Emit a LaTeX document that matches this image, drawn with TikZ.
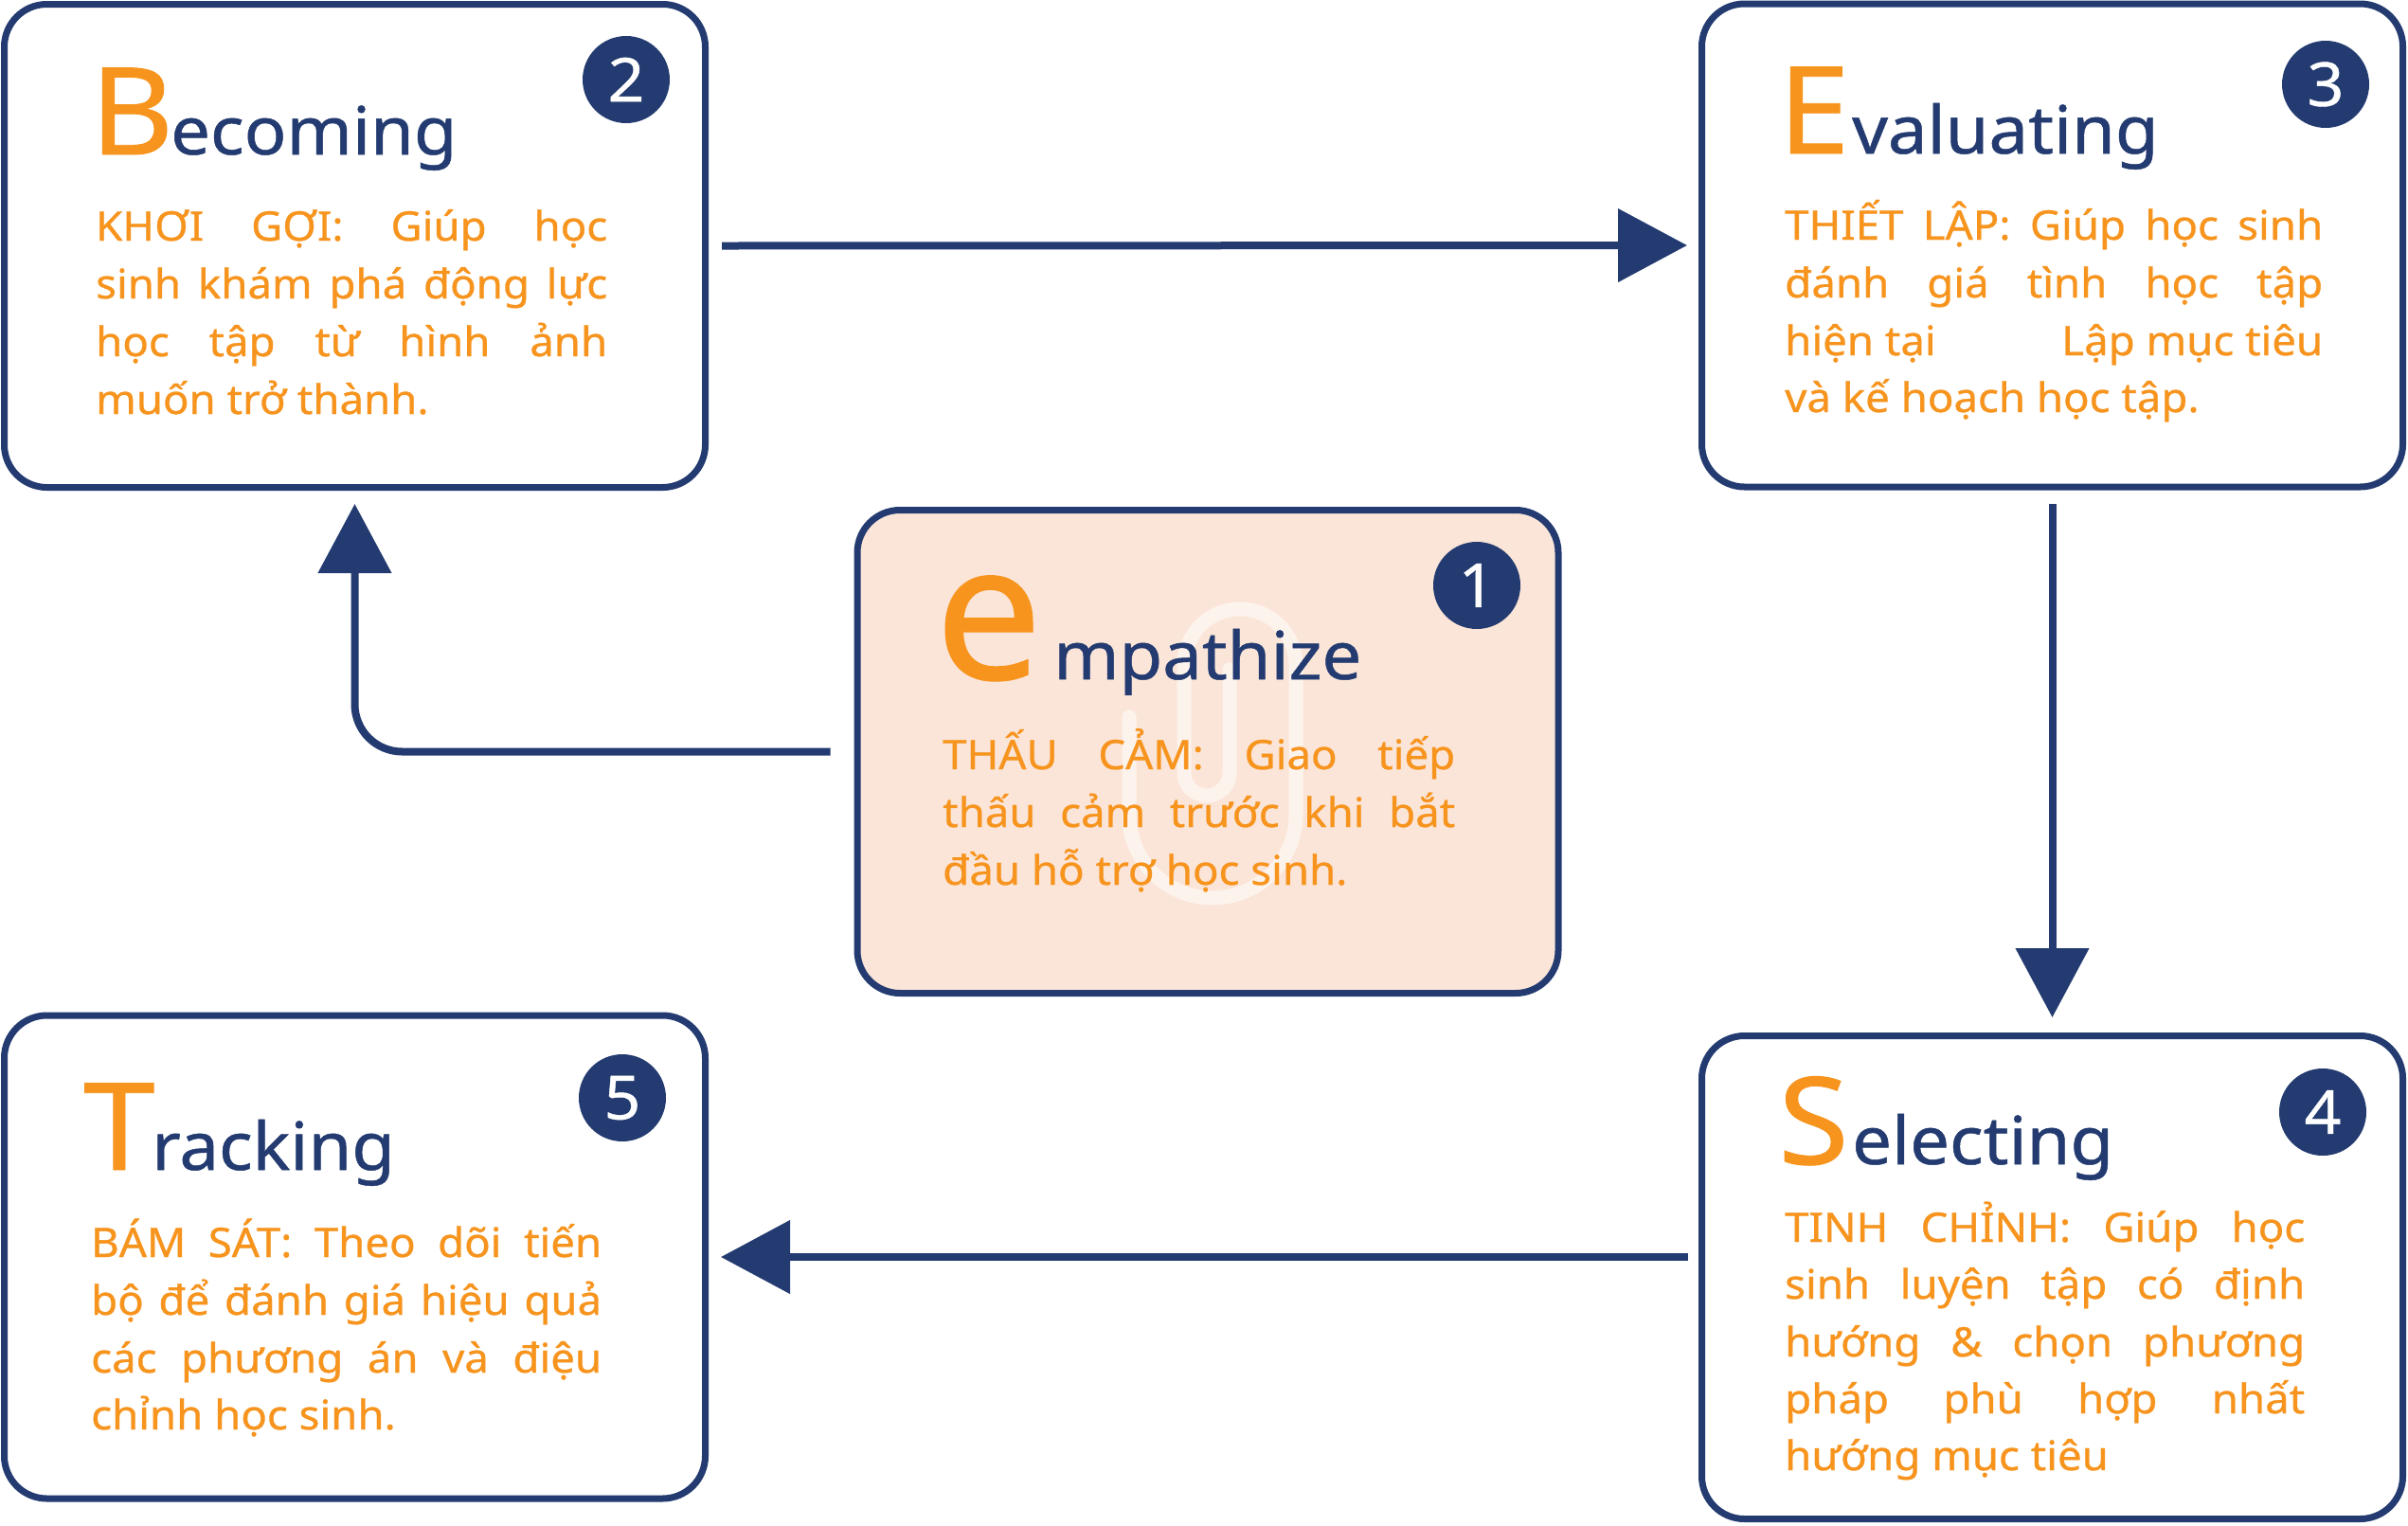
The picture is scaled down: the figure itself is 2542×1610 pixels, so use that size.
\documentclass[tikz,border=0pt]{standalone}
\usepackage{fontspec}
\setmainfont{Noto Sans}
\newfontfamily\medfont{Noto Sans}[FakeStretch=1.06, FakeBold=0.7]
\newfontfamily\medfontn{Noto Sans}[FakeBold=0.7]
\usetikzlibrary{arrows.meta}
\definecolor{navy}{RGB}{35,59,112}
\definecolor{orng}{RGB}{247,148,30}
\definecolor{peach}{RGB}{251,229,216}
\tikzset{
 card/.style={draw=navy, line width=7pt, rounded corners=45pt, minimum width=740pt, minimum height=510pt, inner sep=0pt},
 badge/.style={circle, fill=navy, text=white, minimum size=92pt, inner sep=0pt, font=\medfont\fontsize{64pt}{64pt}\selectfont},
 bigletter/.style={text=orng, inner sep=0pt, anchor=base west, font=\medfont\fontsize{128pt}{128pt}\selectfont},
 bige/.style={text=orng, inner sep=0pt, anchor=base west, font=\medfontn\fontsize{200pt}{200pt}\selectfont},
 word/.style={text=navy, inner sep=0pt, anchor=base west, font=\medfont\fontsize{70pt}{70pt}\selectfont},
 bodyline/.style={text=orng, inner sep=0pt, anchor=base west, text height=31pt, text depth=9pt, font=\medfont\fontsize{43pt}{43pt}\selectfont},
 flow/.style={draw=navy, line width=8pt, -{Triangle[length=73pt,width=76pt]}},
 clipmark/.style={draw=white, draw opacity=0.55, line width=15pt, line cap=round},
}
\begin{document}
\begin{tikzpicture}[x=1pt,y=-1pt]
\fill[white] (0,0) rectangle (2542,1610);
\useasboundingbox (0,0) rectangle (2542,1610);

% cards
\node[card] (b2) at (374.5,259.5) {};
\node[card] (b3) at (2166.5,259) {};
\node[card, fill=peach] (b1) at (1275,793.5) {};
\node[card] (b5) at (374.5,1327) {};
\node[card] (b4) at (2166.5,1348.5) {};

% paperclip watermark
\draw[clipmark] (1192,757) -- (1192,860) arc[start angle=180, end angle=0, radius=88]
  -- (1368,702) arc[start angle=0, end angle=-180, radius=59]
  -- (1250,816) arc[start angle=180, end angle=0, radius=24]
  -- (1298,707);

% badges
\node[badge] (c2) at (661,84) {2};
\node[badge] (c3) at (2455,89) {3};
\node[badge] (c1) at (1559,618) {1};
\node[badge] (c4) at (2452,1174) {4};
\node[badge] (c5) at (657,1159) {5};

% titles
\node[bigletter] (h2a) at (95,163) {B};
\node[word] (h2b) at (180,163) {ecoming};
\node[bigletter] (h3a) at (1877,162) {E};
\node[word] (h3b) at (1955,162) {valuating};
\node[bige] (h1a) at (987,717) {e};
\node[word] (h1b) at (1112,717) {mpathize};
\node[bigletter] (h4a) at (1877,1229) {S};
\node[word] (h4b) at (1955,1229) {electing};
\node[bigletter] (h5a) at (88,1235) {T};
\node[word] (h5b) at (160,1235) {racking};

% body texts
\node[bodyline] (t2a) at (101,254) {\makebox[540pt][s]{KHƠI GỢI: Giúp học}};
\node[bodyline] (t2b) at (101,315) {\makebox[540pt][s]{sinh khám phá động lực}};
\node[bodyline] (t2c) at (101,376) {\makebox[540pt][s]{học tập từ hình ảnh}};
\node[bodyline] (t2d) at (101,437) {muốn trở thành.};

\node[bodyline] (t3a) at (1884,253) {\makebox[568pt][s]{THIẾT LẬP: Giúp học sinh}};
\node[bodyline] (t3b) at (1884,314) {\makebox[568pt][s]{đánh giá tình học tập}};
\node[bodyline] (t3c) at (1884,375) {\makebox[568pt]{hiện tại\hfill Lập mục tiêu}};
\node[bodyline] (t3d) at (1884,435) {và kế hoạch học tập.};

\node[bodyline] (t1a) at (995,812) {\makebox[541pt][s]{THẤU CẢM: Giao tiếp}};
\node[bodyline] (t1b) at (995,873) {\makebox[541pt][s]{thấu cảm trước khi bắt}};
\node[bodyline] (t1c) at (995,934) {đầu hỗ trợ học sinh.};

\node[bodyline] (t5a) at (96,1327) {\makebox[539pt][s]{BÁM SÁT: Theo dõi tiến}};
\node[bodyline] (t5b) at (96,1388) {\makebox[539pt][s]{bộ để đánh giá hiệu quả}};
\node[bodyline] (t5c) at (96,1449) {\makebox[539pt][s]{các phương án và điệu}};
\node[bodyline] (t5d) at (96,1509) {chỉnh học sinh.};

\node[bodyline] (t4a) at (1884,1311) {\makebox[549pt][s]{TINH CHỈNH: Giúp học}};
\node[bodyline] (t4b) at (1884,1371) {\makebox[549pt][s]{sinh luyện tập có định}};
\node[bodyline] (t4c) at (1884,1432) {\makebox[549pt][s]{hướng \& chọn phương}};
\node[bodyline] (t4d) at (1884,1492) {\makebox[549pt][s]{pháp phù hợp nhất}};
\node[bodyline] (t4e) at (1884,1552) {hướng mục tiêu};

% connectors
\draw[flow] ([xshift=14pt]b2.east) -- ([xshift=-12pt]b3.west);
\draw[flow] ([yshift=-14pt]b3.south) -- ([yshift=16pt]b4.north);
\draw[flow] ([xshift=-11pt]b4.west |- b5.east) -- ([xshift=13pt]b5.east);
\draw[flow, rounded corners=50pt] ([xshift=-25pt]b1.west) -| ([yshift=-14pt]b2.south);
\end{tikzpicture}
\end{document}
